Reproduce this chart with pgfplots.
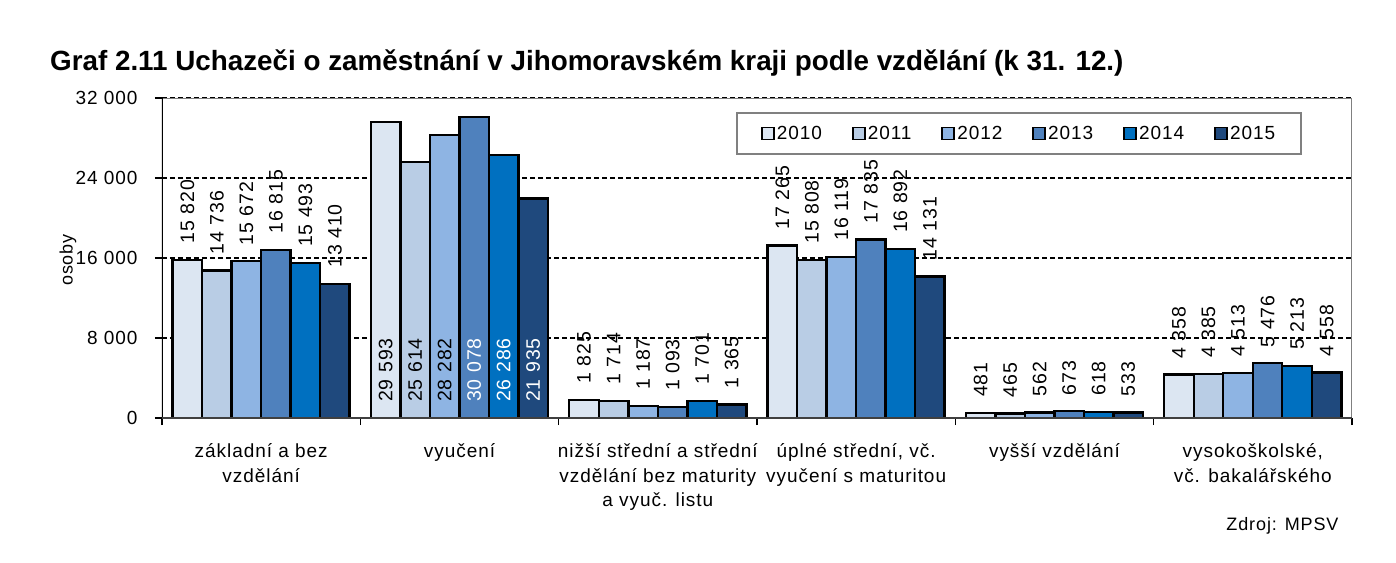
\documentclass[border=0pt]{standalone}
\usepackage{fontspec}
\setmainfont{Liberation Sans}
\newfontfamily\lsfont{Liberation Sans}[LetterSpace=5]
\usepackage{graphicx}
\usepackage{pgfplots}
\pgfplotsset{compat=1.18}
\definecolor{c2010}{HTML}{DCE6F2}
\definecolor{c2011}{HTML}{B9CDE5}
\definecolor{c2012}{HTML}{8EB4E3}
\definecolor{c2013}{HTML}{4F81BD}
\definecolor{c2014}{HTML}{0070C0}
\definecolor{c2015}{HTML}{1F497D}
\newcommand{\fs}[1]{\fontsize{#1bp}{#1bp}\selectfont}
\pgfplotsset{
  barbase/.style={ybar, bar width=0.1488, bar shift=0pt, draw=black, line width=2.4bp},
  lab/.style={nodes near coords={\rotatebox{90}{\pgfmathprintnumber{\pgfplotspointmeta}}},
    nodes near coords style={anchor=south, inner ysep=15bp, inner xsep=0pt, font=\lsfont\fs{19.5}, text=black}},
}
\begin{document}
\begin{tikzpicture}
\path[use as bounding box] (-162bp,-145bp) rectangle (1234bp,418bp);
\begin{axis}[
  at={(0,0)}, anchor=south west,
  scale only axis, width=1190bp, height=320bp,
  xmin=-0.5, xmax=5.5, ymin=0, ymax=32000,
  axis x line*=bottom, axis y line*=left,
  axis line style={draw=none},
  tick align=outside,
  tick style={black, line width=1.5bp},
  major tick length=7bp,
  xtick={-0.5,0.5,1.5,2.5,3.5,4.5,5.5},
  xticklabels={{},{},{},{},{},{},{}},
  extra x ticks={0,1,2,3,4,5},
  extra x tick labels={{základní a bez\\vzdělání},{vyučení},{nižší střední a střední\\vzdělání bez maturity\\a vyuč. listu},{úplné střední, vč.\\vyučení s maturitou},{vyšší vzdělání},{vysokoškolské,\\vč. bakalářského}},
  extra x tick style={major tick length=0pt, xticklabel style={align=center, font=\lsfont\fontsize{19bp}{24.5bp}\selectfont, anchor=north, yshift=-22bp}},
  ytick={0,8000,16000,24000,32000},
  scaled y ticks=false,
  yticklabel style={font=\lsfont\fs{19}, xshift=-14bp},
  /pgf/number format/1000 sep={\ },
  /pgf/number format/assume math mode=true,
  ymajorgrids,
  grid style={black, line width=1.6bp, dash pattern=on 5bp off 3bp},
  legend columns=6,
  legend image code/.code={\draw[#1, line width=1.8bp] (0bp,-6bp) rectangle (12bp,6bp);},
  legend style={at={(0.4824,0.956)}, anchor=north west, draw=gray, line width=2bp,
    font=\lsfont\fs{19}, inner xsep=24bp, inner ysep=11bp,
    nodes={inner sep=2bp},
    /tikz/every even column/.append style={column sep=28bp}},
]
% main bars (x = group index + offset of the year within the group)
\addplot[barbase, fill=c2010, lab] coordinates {(-0.372,15820) (1.628,1825) (2.628,17265) (3.628,481) (4.628,4358)};
\addplot[barbase, fill=c2011, lab] coordinates {(-0.2232,14736) (1.7768,1714) (2.7768,15808) (3.7768,465) (4.7768,4385)};
\addplot[barbase, fill=c2012, lab] coordinates {(-0.0744,15672) (1.9256,1187) (2.9256,16119) (3.9256,562) (4.9256,4513)};
\addplot[barbase, fill=c2013, lab] coordinates {(0.0744,16815) (2.0744,1093) (3.0744,17835) (4.0744,673) (5.0744,5476)};
\addplot[barbase, fill=c2014, lab] coordinates {(0.2232,15493) (2.2232,1701) (3.2232,16892) (4.2232,618) (5.2232,5213)};
\addplot[barbase, fill=c2015, lab] coordinates {(0.372,13410) (2.372,1365) (3.372,14131) (4.372,533) (5.372,4558)};
\legend{2010,2011,2012,2013,2014,2015}
% vyuceni bars
\addplot[barbase, fill=c2010, forget plot] coordinates {(0.628,29593)};
\addplot[barbase, fill=c2011, forget plot] coordinates {(0.7768,25614)};
\addplot[barbase, fill=c2012, forget plot] coordinates {(0.9256,28282)};
\addplot[barbase, fill=c2013, forget plot] coordinates {(1.0744,30078)};
\addplot[barbase, fill=c2014, forget plot] coordinates {(1.2232,26286)};
\addplot[barbase, fill=c2015, forget plot] coordinates {(1.372,21935)};
% vyuceni labels inside bars
\addplot[barbase, draw=none, fill=none, forget plot, lab, point meta=explicit] coordinates {(0.628,0) [29593]};
\addplot[barbase, draw=none, fill=none, forget plot, lab, point meta=explicit] coordinates {(0.7768,0) [25614]};
\addplot[barbase, draw=none, fill=none, forget plot, lab, point meta=explicit] coordinates {(0.9256,0) [28282]};
\addplot[barbase, draw=none, fill=none, forget plot, lab, nodes near coords style={text=white}, point meta=explicit] coordinates {(1.0744,0) [30078]};
\addplot[barbase, draw=none, fill=none, forget plot, lab, nodes near coords style={text=white}, point meta=explicit] coordinates {(1.2232,0) [26286]};
\addplot[barbase, draw=none, fill=none, forget plot, lab, nodes near coords style={text=white}, point meta=explicit] coordinates {(1.372,0) [21935]};
\draw[gray, line width=2bp] (rel axis cs:0,1) -- (rel axis cs:1,1) -- (rel axis cs:1,0);
\draw[black, line width=2bp] (rel axis cs:0,0) -- (rel axis cs:0,1);
\draw[black!75, line width=2.5bp] (rel axis cs:0,0) -- (rel axis cs:1,0);
\end{axis}
\node[anchor=base west, inner sep=0pt, font=\bfseries\fs{27.8}] at (-112bp,347bp) {Graf 2.11 Uchazeči o zaměstnání v Jihomoravském kraji podle vzdělání (k 31. 12.)};
\node[rotate=90, font=\lsfont\fs{18}] at (-94bp,158bp) {osoby};
\node[anchor=base east, font=\lsfont\fs{18}] at (1180bp,-112bp) {Zdroj: MPSV};
\end{tikzpicture}
\end{document}
